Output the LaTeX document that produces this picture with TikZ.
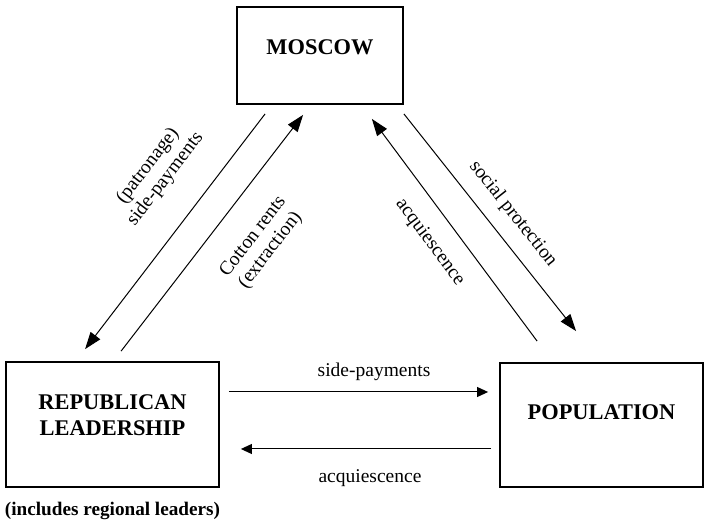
\documentclass[tikz,border=0pt]{standalone}
\usepackage{fontspec}
\setmainfont{Liberation Serif}
\usetikzlibrary{arrows.meta, positioning, calc}

\begin{document}
\begin{tikzpicture}[
    x=0.5pt, y=-0.5pt,
    >={Triangle[length=5.5pt, width=5pt]},
    B/.style={rectangle, draw, line width=0.9pt, inner sep=0pt, align=center,
              font=\fontsize{11.2}{13}\selectfont\bfseries},
    A/.style={->, line width=0.5pt},
    D/.style={-{Triangle[length=8.5pt, width=6pt]}, line width=0.5pt},
    L/.style={inner sep=0pt, align=center, font=\fontsize{9.75}{11}\selectfont}
]
\useasboundingbox (0,0) rectangle (708,523);

% === BOXES ===
\node[B, minimum width=83pt, minimum height=48.5pt, text depth=8.5pt] (mos) at (320,55.5) {MOSCOW};
\node[B, minimum width=106.5pt, minimum height=62.5pt, text depth=9.5pt] (rep) at (112.5,424.5) {REPUBLICAN\\LEADERSHIP};
\node[B, minimum width=101.5pt, minimum height=62pt, text depth=13pt] (pop) at (601.5,425) {POPULATION};

\node[inner sep=0pt, font=\fontsize{9.6}{11}\selectfont\bfseries, below=7pt of rep] (inc) {(includes regional leaders)};

% === MOSCOW <-> REPUBLIC ===
\draw[D] ($(mos.south west)+(29,9)$) -- ($(rep.north west)+(80,-12)$)
    node[L, pos=0.38, sloped, above=15pt] (lpat) {(patronage)\\side-payments};
\draw[D] ($(rep.north west)+(116,-10)$) -- ($(mos.south west)+(67,10)$)
    node[L, pos=0.574, sloped, below=13pt] (lcot) {Cotton rents\\(extraction)};

% === MOSCOW <-> POPULATION ===
\draw[D] ($(pop.north west)+(38,-21)$) -- ($(mos.south east)+(-32,14)$)
    node[L, pos=0.518, sloped, below=9pt] (lacq1) {acquiescence};
\draw[D] ($(mos.south east)+(0,9)$) -- ($(pop.north west)+(77,-31)$)
    node[L, pos=0.527, sloped, above=7pt] (lsoc) {social protection};

% === REPUBLIC <-> POPULATION ===
\draw[A] ($(rep.east)+(9,-32.5)$) -- ($(pop.west)+(-11,-33)$)
    node[L, pos=0.56, above=5.5pt] (lside) {side-payments};
\draw[A] ($(pop.west)+(-8,24)$) -- ($(rep.east)+(21,24.5)$)
    node[L, pos=0.484, below=10pt] (lacq2) {acquiescence};

\end{tikzpicture}
\end{document}
